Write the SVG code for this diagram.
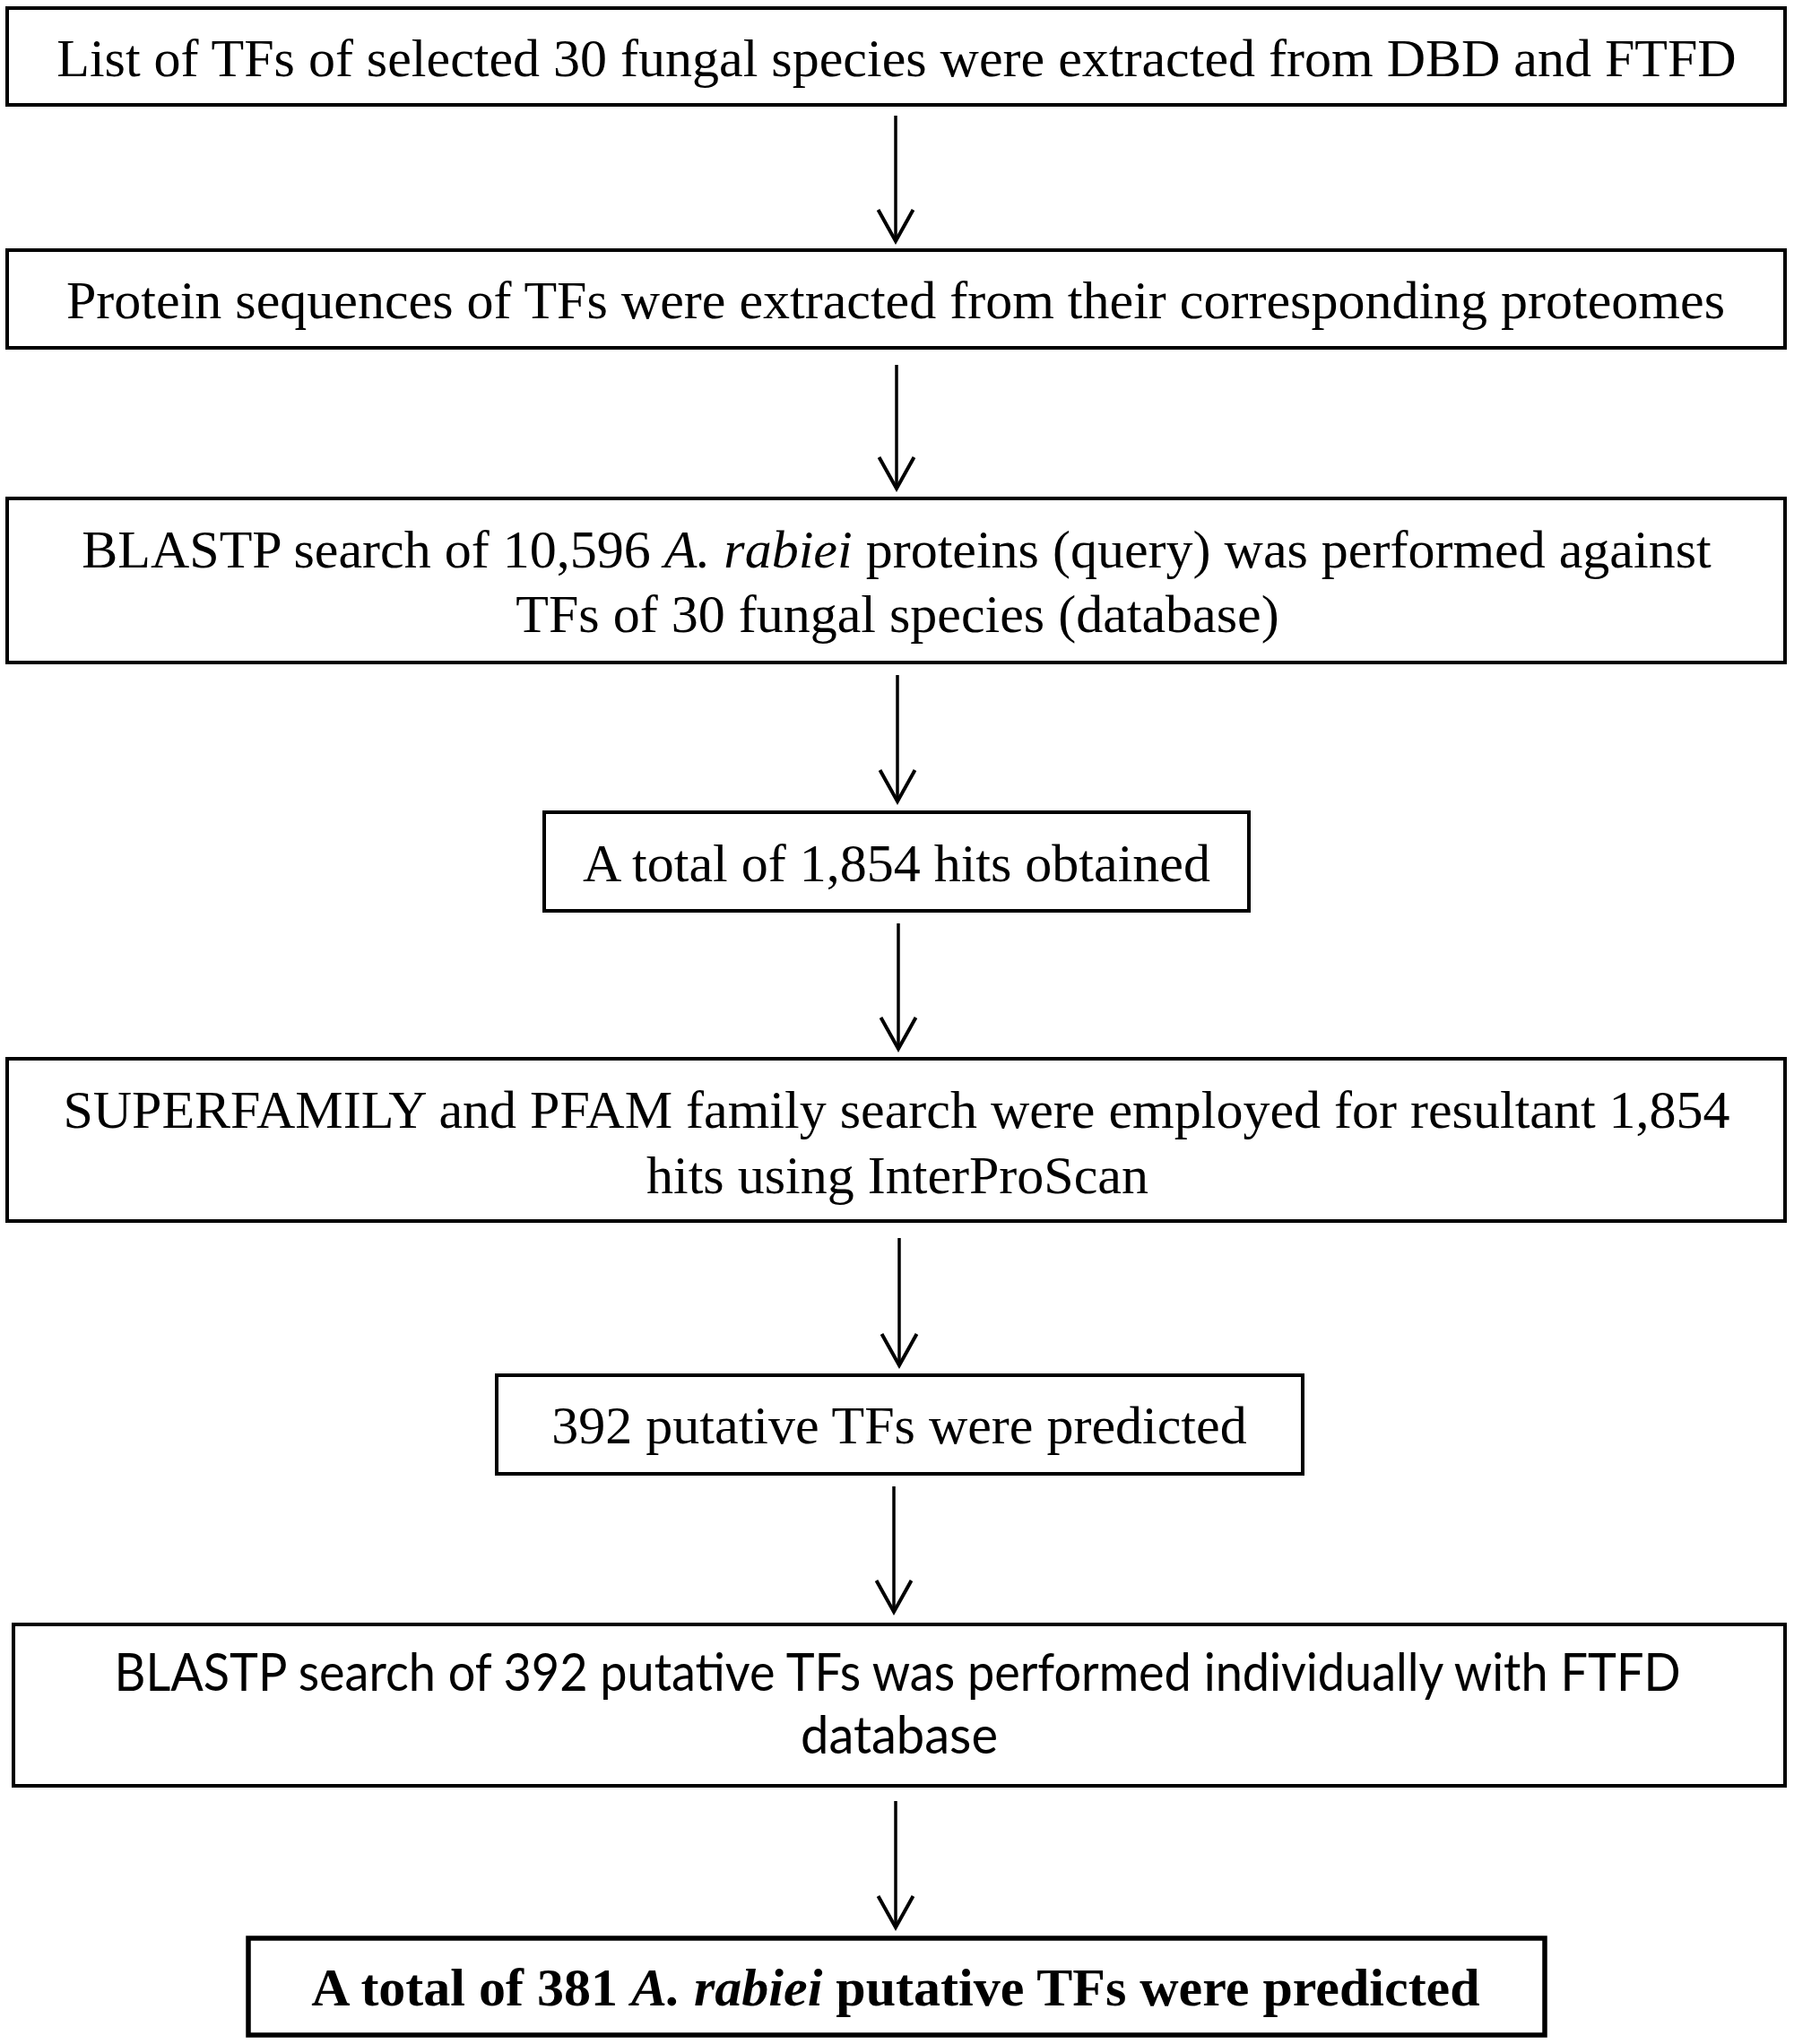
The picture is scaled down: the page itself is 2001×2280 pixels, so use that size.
<svg xmlns="http://www.w3.org/2000/svg" width="2001" height="2280" viewBox="0 0 2001 2280">
<style>
.box{fill:#fff;stroke:#000;stroke-width:4}
.bbox{fill:#fff;stroke:#000;stroke-width:5.5}
.serif{font-family:"Liberation Serif","Times New Roman",serif;font-size:60px;fill:#000;text-anchor:middle}
.sans{font-family:Lato,"Noto Sans","Liberation Sans",sans-serif;font-size:58px;fill:#000;text-anchor:middle}
.bold{font-weight:bold;font-size:60px}
.conn{stroke:#000;stroke-width:3.5;fill:none;marker-end:url(#arr)}
</style>
<defs>
<marker id="arr" markerUnits="userSpaceOnUse" orient="auto" markerWidth="60" markerHeight="60" viewBox="-50 -30 60 60" refX="0" refY="0" overflow="visible">
<path d="M-35,-19.5 L0,0 L-35,19.5" fill="none" stroke="#000" stroke-width="4"/>
</marker>
</defs>
<rect width="2001" height="2280" fill="#fff"/>
<g id="connectors">
<line class="conn" x1="999" y1="129" x2="999" y2="269"/>
<line class="conn" x1="1000" y1="407" x2="1000" y2="545"/>
<line class="conn" x1="1001" y1="753" x2="1001" y2="894"/>
<line class="conn" x1="1002" y1="1030" x2="1002" y2="1170"/>
<line class="conn" x1="1003" y1="1381" x2="1003" y2="1523"/>
<line class="conn" x1="997" y1="1658" x2="997" y2="1798"/>
<line class="conn" x1="999" y1="2009" x2="999" y2="2150"/>
</g>
<g id="node1">
<rect class="box" x="8" y="9" width="1983" height="108"/>
<text class="serif" x="1000" y="85">List of TFs of selected 30 fungal species were extracted from DBD and FTFD</text>
</g>
<g id="node2">
<rect class="box" x="8" y="279" width="1983" height="109"/>
<text class="serif" x="999" y="355">Protein sequences of TFs were extracted from their corresponding proteomes</text>
</g>
<g id="node3">
<rect class="box" x="8" y="556" width="1983" height="183"/>
<text class="serif" x="1000" y="633">BLASTP search of 10,596 <tspan font-style="italic">A. rabiei</tspan> proteins (query) was performed against</text>
<text class="serif" x="1001" y="705">TFs of 30 fungal species (database)</text>
</g>
<g id="node4">
<rect class="box" x="607" y="906" width="786" height="110"/>
<text class="serif" x="1000" y="983">A total of 1,854 hits obtained</text>
</g>
<g id="node5">
<rect class="box" x="8" y="1181" width="1983" height="181"/>
<text class="serif" x="1000" y="1258">SUPERFAMILY and PFAM family search were employed for resultant 1,854</text>
<text class="serif" x="1001" y="1331">hits using InterProScan</text>
</g>
<g id="node6">
<rect class="box" x="554" y="1534" width="899" height="110"/>
<text class="serif" x="1003" y="1610">392 putative TFs were predicted</text>
</g>
<g id="node7">
<rect class="box" x="15" y="1812" width="1976" height="180"/>
<text class="sans" x="1001" y="1886" textLength="1747" lengthAdjust="spacingAndGlyphs">BLASTP search of 392 putative TFs was performed individually with FTFD</text>
<text class="sans" x="1003" y="1956" textLength="220" lengthAdjust="spacingAndGlyphs">database</text>
</g>
<g id="node8">
<rect class="bbox" x="277" y="2162" width="1446" height="108"/>
<text class="serif bold" x="999" y="2237">A total of 381 <tspan font-style="italic">A. rabiei</tspan> putative TFs were predicted</text>
</g>
</svg>
